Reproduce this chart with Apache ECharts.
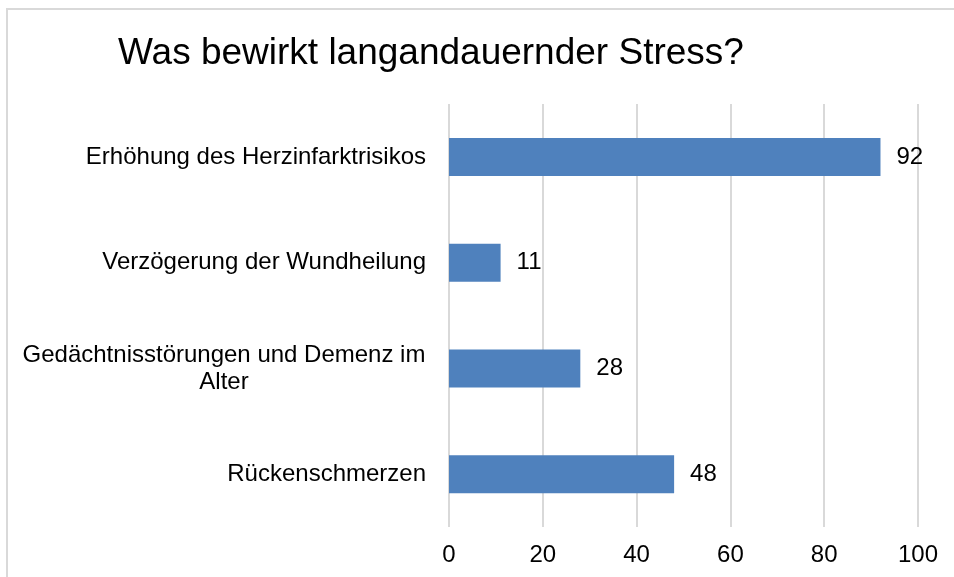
<!DOCTYPE html>
<html>
<head>
<meta charset="utf-8">
<script src="https://cdn.jsdelivr.net/npm/echarts@6/dist/echarts.min.js"></script>
<style>
  html, body { margin: 0; padding: 0; background: #fff; }
  #chart { width: 954px; height: 577px; }
</style>
</head>
<body>
<div id="chart"></div>
<script>
// Kategorien von oben nach unten
const kategorien = [
    'Erhöhung des Herzinfarktrisikos',
    'Verzögerung der Wundheilung',
    'Gedächtnisstörungen und Demenz im\nAlter',
    'Rückenschmerzen'
];
const werte = [92, 11, 28, 48];
const achsenTicks = [0, 20, 40, 60, 80, 100];

const chart = echarts.init(document.getElementById('chart'));

const option = {
    animation: false,
    textStyle: { fontFamily: 'Liberation Sans, Arial, sans-serif' },
    title: {
        text: 'Was bewirkt langandauernder Stress?',
        left: 113,
        top: 30,
        textStyle: {
            fontFamily: 'Liberation Sans, Arial, sans-serif',
            fontSize: 37,
            fontWeight: 'normal',
            color: '#000'
        }
    },
    graphic: [
        {
            type: 'rect',
            shape: { x: 7, y: 9, width: 1000, height: 700 },
            style: { fill: 'none', stroke: '#d9d9d9', lineWidth: 2 },
            silent: true
        }
    ],
    grid: {
        left: 449,
        right: 36,
        top: 104,
        bottom: 50
    },
    xAxis: {
        type: 'value',
        min: achsenTicks[0],
        max: achsenTicks[achsenTicks.length - 1],
        interval: 20,
        axisLine: { show: false },
        axisTick: { show: false },
        splitLine: { lineStyle: { color: '#d9d9d9', width: 2 } },
        axisLabel: {
            color: '#000',
            fontSize: 24,
            margin: 16
        }
    },
    yAxis: {
        type: 'category',
        inverse: true,
        data: kategorien,
        axisLine: { show: false },
        axisTick: { show: false },
        axisLabel: {
            color: '#000',
            fontSize: 24,
            margin: 23,
            align: 'right',
            // mehrzeilige Beschriftung zentriert wie im Original
            formatter: (wert) => wert.indexOf('\n') >= 0 ? '{m|' + wert + '}' : wert,
            rich: {
                m: {
                    fontSize: 24,
                    lineHeight: 27,
                    width: 404,
                    align: 'center',
                    color: '#000'
                }
            }
        }
    },
    series: [
        {
            type: 'bar',
            data: werte,
            barWidth: 38,
            itemStyle: { color: '#4f81bd' },
            label: {
                show: true,
                position: 'right',
                distance: 16,
                color: '#000',
                fontSize: 24
            }
        }
    ]
};

chart.setOption(option);
</script>
</body>
</html>
